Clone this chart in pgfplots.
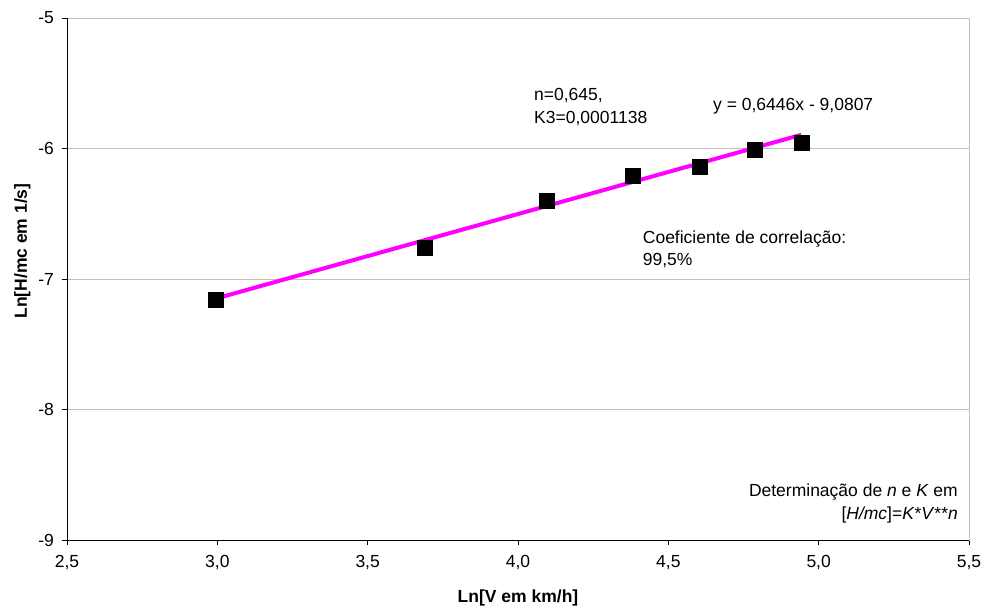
\documentclass[border=0pt]{standalone}
\usepackage{pgfplots}
\pgfplotsset{compat=1.18}
\usepackage{fontspec}
\setmainfont{Liberation Sans}
\definecolor{gridgray}{RGB}{192,192,192}
\definecolor{trend}{RGB}{255,0,255}
\begin{document}
\fontsize{17.5}{21}\selectfont
\begin{tikzpicture}
\begin{axis}[
  name=ax,
  scale only axis,
  width=902pt, height=522pt,
  xmin=2.5, xmax=5.5, ymin=-9, ymax=-5,
  xtick={2.5,3.0,3.5,4.0,4.5,5.0,5.5},
  ytick={-9,-8,-7,-6,-5},
  tick pos=left, tick align=outside,
  major tick length=5pt,
  tick style={black, line width=0.8pt},
  ymajorgrids, grid style={gridgray, line width=0.8pt},
  axis line style={gridgray, line width=0.8pt},
  /pgf/number format/assume math mode=true,
  xticklabel style={/pgf/number format/use comma, /pgf/number format/fixed, /pgf/number format/fixed zerofill, /pgf/number format/precision=1, font=\fontsize{17.5}{21}\selectfont, yshift=-4pt},
  yticklabel style={/pgf/number format/fixed, /pgf/number format/precision=0, font=\fontsize{17.5}{21}\selectfont, xshift=-2pt},
  xlabel={\textbf{Ln[V em km/h]}},
  ylabel={\textbf{Ln[H/mc em 1/s]}},
  every axis x label/.style={at={(rel axis cs:0.5,0)}, anchor=base, yshift=-62.7pt, font=\fontsize{17.5}{21}\selectfont},
  every axis y label/.style={at={(rel axis cs:0,0.5536)}, anchor=base, rotate=90, yshift=40pt, font=\fontsize{17.5}{21}\selectfont},
  clip=false,
]
\draw[black, line width=0.9pt] (rel axis cs:0,1) -- (rel axis cs:0,0) -- (rel axis cs:1,0);
\addplot[only marks, mark=square*, mark size=7.5pt, mark options={fill=black, draw=black, line width=0.3pt}]
  coordinates {(2.996,-7.161) (3.689,-6.760) (4.094,-6.397) (4.382,-6.208) (4.605,-6.142) (4.787,-6.011) (4.942,-5.953)};
\addplot[trend, line width=4pt] coordinates {(2.996,-7.1494) (4.942,-5.8950)};
\node[anchor=base west, inner sep=0] at (axis cs:4.0532,-5.6337) {n=0,645,};
\node[anchor=base west, inner sep=0] at (axis cs:4.0532,-5.8123) {K3=0,0001138};
\node[anchor=base west, inner sep=0] at (axis cs:4.6485,-5.7103) {y = 0,6446x - 9,0807};
\node[anchor=base west, inner sep=0] at (axis cs:4.4147,-6.7264) {Coeficiente de correlação:};
\node[anchor=base west, inner sep=0] at (axis cs:4.4147,-6.9004) {99,5\%};
\node[anchor=base east, inner sep=0] at (axis cs:5.4634,-8.6682) {Determinação de \textit{n} e \textit{K} em};
\node[anchor=base east, inner sep=0] at (axis cs:5.4634,-8.8467) {[\textit{H/mc}]=\textit{K}*\textit{V}**\textit{n}};
\end{axis}
\pgfresetboundingbox
\path ([shift={(-67pt,-66pt)}]ax.south west) rectangle ([shift={(14pt,18pt)}]ax.north east);
\end{tikzpicture}
\end{document}
